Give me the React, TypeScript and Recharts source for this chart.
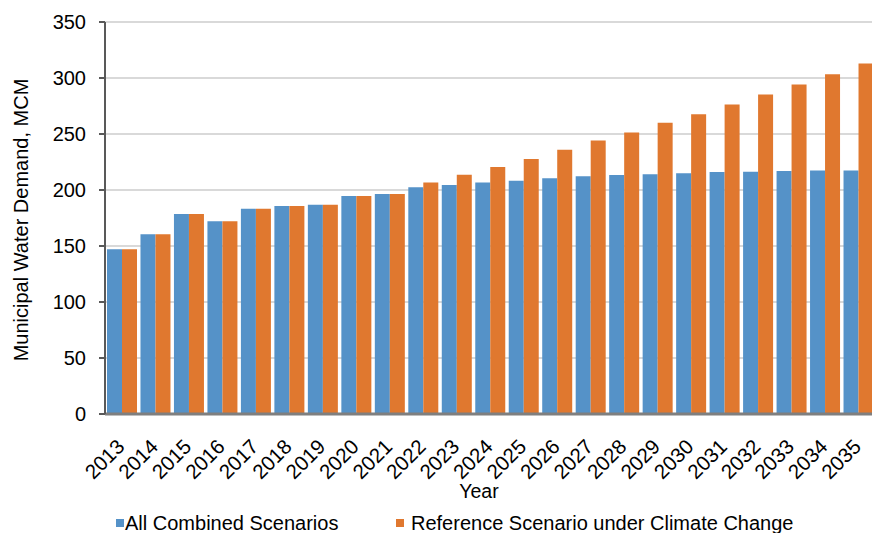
import React from 'react';
import { BarChart, Bar, XAxis, YAxis, CartesianGrid, Legend } from 'recharts';

const years = [
  '2013', '2014', '2015', '2016', '2017', '2018', '2019', '2020', '2021', '2022', '2023', '2024',
  '2025', '2026', '2027', '2028', '2029', '2030', '2031', '2032', '2033', '2034', '2035',
];
const combinedScenarios = [
  147, 160.5, 178.6, 172, 183.3, 185.7, 186.9, 194.6, 196.4, 202.4, 204.4, 206.8,
  208.3, 210.4, 212.2, 213.3, 214, 215, 216, 216.3, 217, 217.5, 217.5,
];
const climateChange = [
  147, 160.5, 178.6, 172, 183.3, 185.7, 186.9, 194.6, 196.4, 206.8, 213.6, 220.5,
  227.6, 235.9, 244.3, 251.4, 260, 267.7, 276.4, 285.3, 294.2, 303.4, 312.9,
];
const yTicks = [0, 50, 100, 150, 200, 250, 300, 350];

const BLUE = '#5592c8';
const ORANGE = '#e0782f';
const FONT = '"Liberation Sans", Arial, sans-serif';

const data = years.map((year, i) => ({
  year,
  combined: combinedScenarios[i],
  climate: climateChange[i],
}));

// rotated year labels, anchored at their end just below the axis
const YearTick = ({ x, y, payload }: any) => {
  const tx = x + 4;
  const ty = y + 26;
  return (
    <text
      x={tx}
      y={ty}
      transform={`rotate(-45, ${tx}, ${ty})`}
      textAnchor="end"
      fill="#000"
      fontSize={20.5}
      fontFamily={FONT}
    >
      {payload.value}
    </text>
  );
};

const YearLabel = ({ viewBox }: any) => (
  <text
    x={viewBox.x + viewBox.width / 2 - 11}
    y={viewBox.y + viewBox.height - 2}
    textAnchor="middle"
    fill="#000"
    fontSize={19.5}
    fontFamily={FONT}
  >
    Year
  </text>
);

const DemandLabel = ({ viewBox }: any) => {
  const cx = 27.5;
  const cy = viewBox.y + viewBox.height / 2 + 2;
  return (
    <text
      x={cx}
      y={cy}
      transform={`rotate(-90, ${cx}, ${cy})`}
      textAnchor="middle"
      fill="#000"
      fontSize={20}
      fontFamily={FONT}
    >
      Municipal Water Demand, MCM
    </text>
  );
};

const legendItems = [
  { label: 'All Combined Scenarios', color: BLUE, left: 116, gap: 1 },
  { label: 'Reference Scenario under Climate Change', color: ORANGE, left: 396, gap: 7 },
];

const ScenarioLegend = () => (
  <div style={{ position: 'relative', height: 33, fontFamily: FONT, fontSize: 20, color: '#000' }}>
    {legendItems.map(item => (
      <div
        key={item.label}
        style={{ position: 'absolute', left: item.left, top: 12, display: 'flex', alignItems: 'center', whiteSpace: 'nowrap', lineHeight: '22px' }}
      >
        <span style={{ display: 'inline-block', width: 8, height: 8, background: item.color, marginRight: item.gap }} />
        {item.label}
      </div>
    ))}
  </div>
);

export default function App() {
  return (
    <div style={{ position: 'absolute', left: 0, top: 0, width: 872, height: 533, overflow: 'hidden', background: '#fff' }}>
      <BarChart
        width={880}
        height={533}
        data={data}
        margin={{ top: 22, right: 5, left: 25, bottom: 0 }}
        barCategoryGap={2}
        barGap={0}
      >
        <CartesianGrid vertical={false} stroke="#d9d9d9" strokeWidth={2} />
        <XAxis
          dataKey="year"
          interval={0}
          height={86}
          tickLine={false}
          axisLine={{ stroke: '#7f7f7f', strokeWidth: 3 }}
          tick={<YearTick />}
          label={<YearLabel />}
        />
        <YAxis
          domain={[0, 350]}
          ticks={yTicks}
          width={80}
          tickSize={6}
          tickMargin={13}
          axisLine={{ stroke: '#595959', strokeWidth: 2 }}
          tickLine={{ stroke: '#595959', strokeWidth: 2 }}
          tick={{ fill: '#000', fontSize: 20, fontFamily: FONT }}
          label={<DemandLabel />}
        />
        <Legend
          verticalAlign="bottom"
          content={<ScenarioLegend />}
          wrapperStyle={{ left: 0, width: 880, height: 33, bottom: 0 }}
        />
        <Bar dataKey="combined" name="All Combined Scenarios" fill={BLUE} isAnimationActive={false} />
        <Bar dataKey="climate" name="Reference Scenario under Climate Change" fill={ORANGE} isAnimationActive={false} />
      </BarChart>
    </div>
  );
}
